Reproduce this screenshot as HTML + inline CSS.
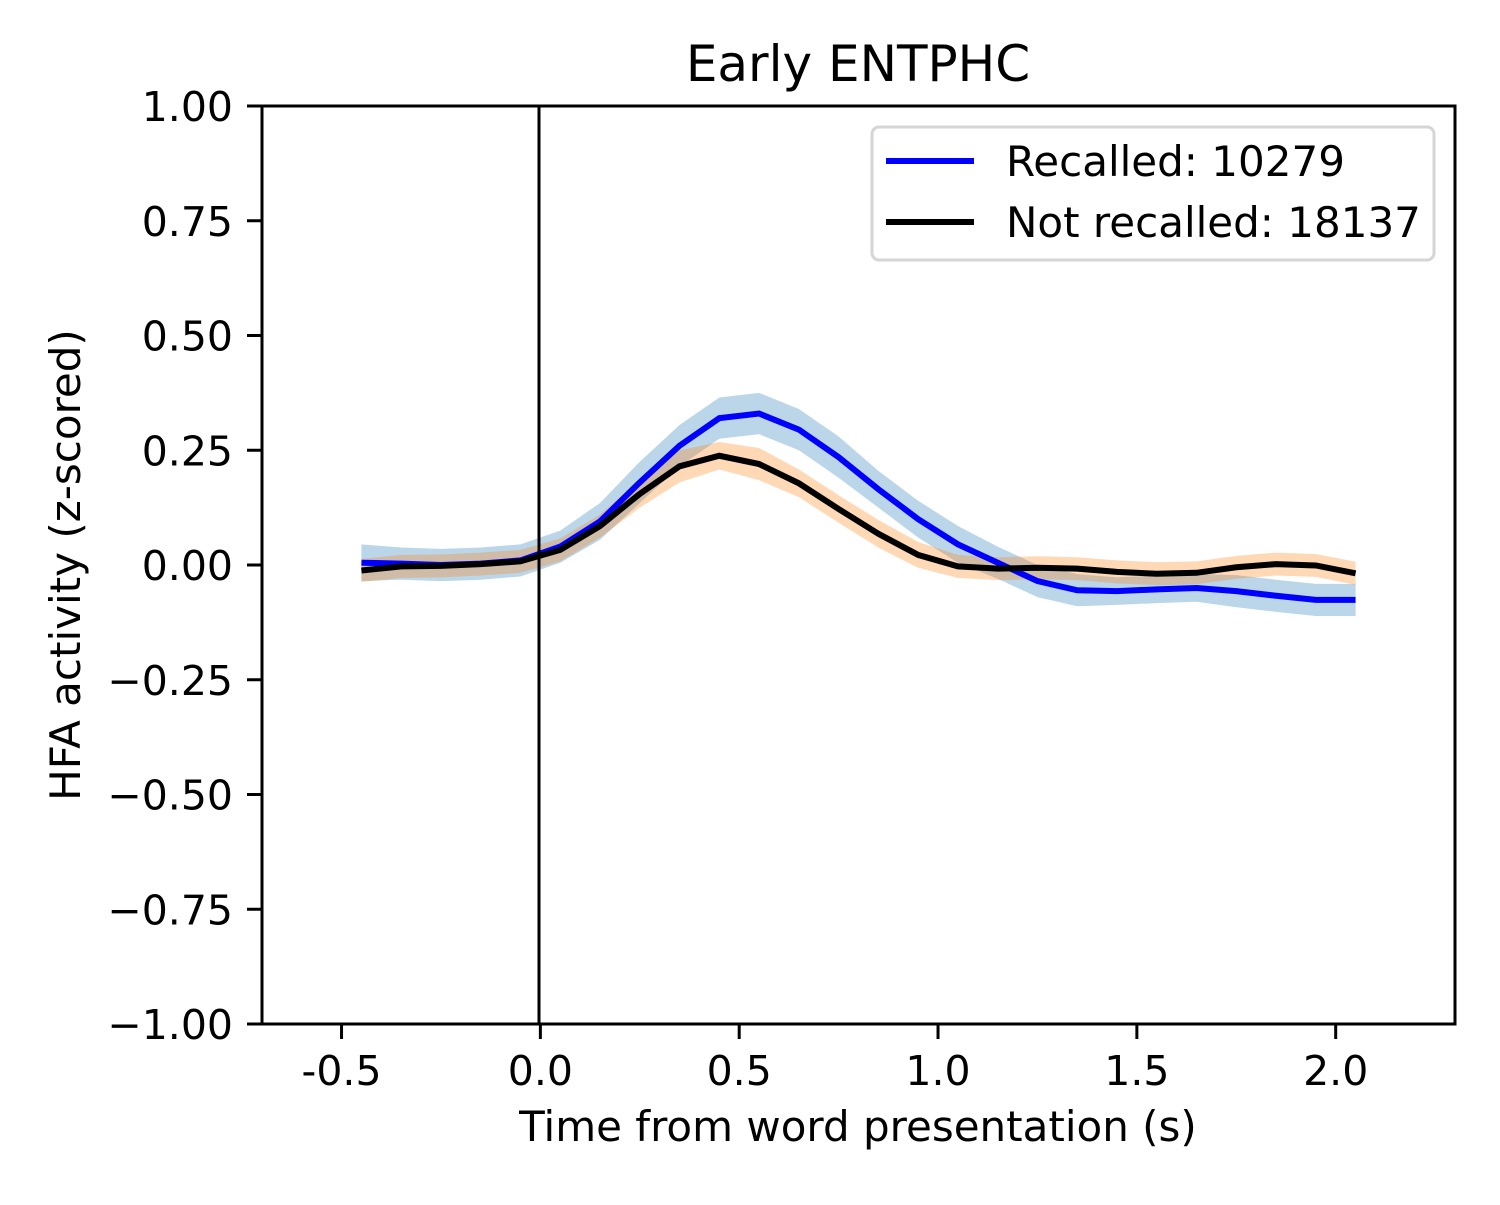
<!DOCTYPE html>
<html><head><meta charset="utf-8"><style>
body{margin:0;background:#fff}
svg text{font-family:"DejaVu Sans","Liberation Sans",sans-serif;fill:#000}
</style></head><body>
<svg id="chart" width="1500" height="1200" xmlns="http://www.w3.org/2000/svg">
<rect width="1500" height="1200" fill="#fff"/>
<g id="bands"></g><g id="lines"></g>
<line x1="539" y1="106" x2="539" y2="1024" stroke="#000" stroke-width="3"/>
<rect x="262" y="106" width="1193" height="918" fill="none" stroke="#000" stroke-width="3"/>
<g id="xticks"></g><g id="yticks"></g>
<text x="858" y="81" font-size="50" text-anchor="middle">Early ENTPHC</text>
<text x="858" y="1141" font-size="42" text-anchor="middle">Time from word presentation (s)</text>
<text transform="translate(80,565) rotate(-90)" font-size="42" text-anchor="middle">HFA activity (z-scored)</text>
<g>
<rect x="872" y="127" width="562" height="133" rx="7" fill="#fff" fill-opacity="0.8" stroke="#d5d5d5" stroke-width="3"/>
<line x1="886" y1="161" x2="974" y2="161" stroke="#00f" stroke-width="6"/>
<text x="1006" y="176" font-size="42">Recalled: 10279</text>
<line x1="886" y1="222" x2="974" y2="222" stroke="#000" stroke-width="6"/>
<text x="1006" y="237" font-size="42">Not recalled: 18137</text>
</g>
</svg>
<script>
const times=[-0.45,-0.35,-0.25,-0.15,-0.05,0.05,0.15,0.25,0.35,0.45,0.55,0.65,0.75,0.85,0.95,1.05,1.15,1.25,1.35,1.45,1.55,1.65,1.75,1.85,1.95,2.05];
const recalled=[0.005,0.003,0.0,0.003,0.01,0.04,0.095,0.18,0.26,0.32,0.33,0.295,0.235,0.165,0.10,0.045,0.005,-0.035,-0.055,-0.057,-0.053,-0.05,-0.057,-0.067,-0.076,-0.076];
const recalledSem=[0.04,0.035,0.035,0.035,0.035,0.035,0.04,0.045,0.045,0.045,0.045,0.045,0.045,0.04,0.04,0.04,0.035,0.035,0.035,0.03,0.03,0.03,0.035,0.035,0.035,0.035];
const notRecalled=[-0.012,-0.003,-0.002,0.002,0.008,0.033,0.085,0.155,0.215,0.238,0.22,0.178,0.122,0.068,0.022,-0.003,-0.008,-0.006,-0.008,-0.015,-0.019,-0.017,-0.005,0.002,-0.001,-0.018];
const notRecalledSem=[0.025,0.025,0.025,0.025,0.025,0.025,0.025,0.03,0.035,0.03,0.035,0.03,0.03,0.03,0.028,0.025,0.025,0.025,0.025,0.025,0.025,0.025,0.025,0.025,0.025,0.025];
const xTicks=[-0.5,0,0.5,1,1.5,2];
const xTickLabels=["-0.5","0.0","0.5","1.0","1.5","2.0"];
const yTicks=[1,0.75,0.5,0.25,0,-0.25,-0.5,-0.75,-1];
const yTickLabels=["1.00","0.75","0.50","0.25","0.00","\u22120.25","\u22120.50","\u22120.75","\u22121.00"];
const NS="http://www.w3.org/2000/svg";
const X=t=>262+(t+0.7)/3.0*1193;
const Y=v=>565-v*459;
function band(m,s,color,name){
  let up=times.map((t,i)=>X(t)+","+Y(m[i]+s[i]));
  let dn=times.map((t,i)=>X(t)+","+Y(m[i]-s[i])).reverse();
  const p=document.createElementNS(NS,"polygon");
  p.setAttribute("points",up.concat(dn).join(" "));
  p.setAttribute("fill",color);p.setAttribute("fill-opacity","0.3");
  
  
  document.getElementById("bands").appendChild(p);
}
function line(m,color,name){
  const p=document.createElementNS(NS,"polyline");
  p.setAttribute("points",times.map((t,i)=>X(t)+","+Y(m[i])).join(" "));
  p.setAttribute("fill","none");p.setAttribute("stroke",color);p.setAttribute("stroke-width","6");
  
  
  document.getElementById("lines").appendChild(p);
}
band(recalled,recalledSem,"#1f77b4","recalled-sem-band");
band(notRecalled,notRecalledSem,"#ff7f0e","not-recalled-sem-band");
line(recalled,"#00f","recalled-line");
line(notRecalled,"#000","not-recalled-line");
const xg=document.getElementById("xticks");
xTicks.forEach((t,i)=>{
  const l=document.createElementNS(NS,"line");
  l.setAttribute("x1",X(t));l.setAttribute("x2",X(t));l.setAttribute("y1",1024);l.setAttribute("y2",1039);
  l.setAttribute("stroke","#000");l.setAttribute("stroke-width","3");
  
  
  xg.appendChild(l);
  const tx=document.createElementNS(NS,"text");
  tx.setAttribute("x",X(t));tx.setAttribute("y",1085);tx.setAttribute("font-size","41");tx.setAttribute("text-anchor","middle");
  tx.textContent=xTickLabels[i];
  
  
  xg.appendChild(tx);
});
const yg=document.getElementById("yticks");
yTicks.forEach((v,i)=>{
  const l=document.createElementNS(NS,"line");
  l.setAttribute("x1",247);l.setAttribute("x2",262);l.setAttribute("y1",Y(v));l.setAttribute("y2",Y(v));
  l.setAttribute("stroke","#000");l.setAttribute("stroke-width","3");
  
  
  yg.appendChild(l);
  const tx=document.createElementNS(NS,"text");
  tx.setAttribute("x",233);tx.setAttribute("y",Y(v)+15);tx.setAttribute("font-size","41");tx.setAttribute("text-anchor","end");
  tx.textContent=yTickLabels[i];
  
  
  yg.appendChild(tx);
});
</script>
</body></html>
